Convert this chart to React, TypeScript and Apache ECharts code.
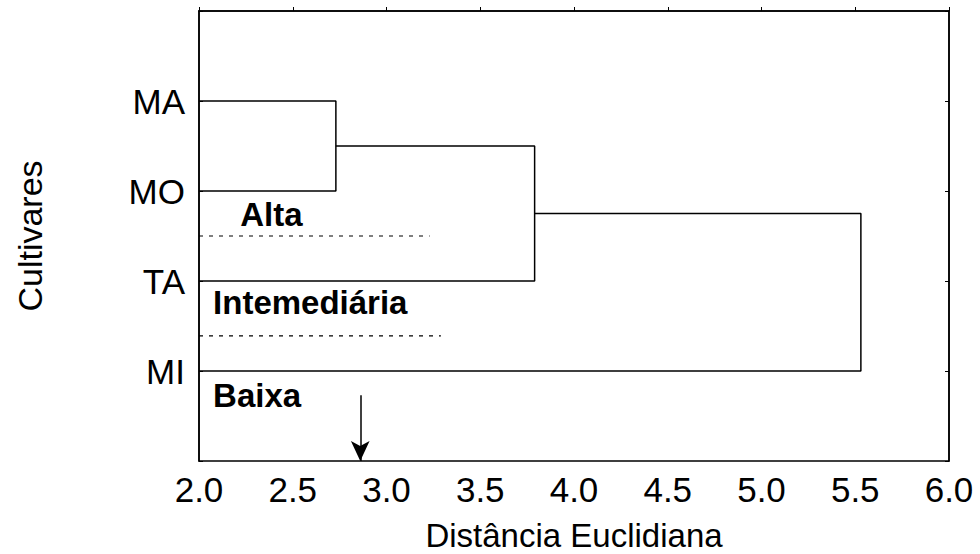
import React, { useEffect, useRef } from "react";
import * as echarts from "echarts";

const cultivars = ["", "MA", "MO", "TA", "MI", ""];
const xTicks = [2.0, 2.5, 3.0, 3.5, 4.0, 4.5, 5.0, 5.5, 6.0];

// dendrogram links: [x, y] in (distance, leaf position)
const link1: number[][] = [[2.0, 1], [2.73, 1], [2.73, 2], [2.0, 2]];
const link2: number[][] = [[2.73, 1.5], [3.79, 1.5], [3.79, 3], [2.0, 3]];
const link3: number[][] = [[3.79, 2.25], [5.53, 2.25], [5.53, 4], [2.0, 4]];

const cut1: number[][] = [[2.0, 2.5], [3.23, 2.5]];
const cut2: number[][] = [[2.0, 3.61], [3.29, 3.61]];

const groupLabels: (number | string)[][] = [
  [2.22, 2.26, "Alta"],
  [2.075, 3.24, "Intemediária"],
  [2.075, 4.27, "Baixa"],
];

const arrowX = 2.86;
const arrowFrom = 4.27;
const arrowTo = 5;

const FONT = "'Liberation Sans', Arial, sans-serif";

export default function App() {
  const ref = useRef<HTMLDivElement>(null);
  useEffect(() => {
    if (!ref.current) return;
    const chart = echarts.init(ref.current, null, { renderer: "svg" });
    const lineStyle = { color: "#000", width: 1.5 };
    const linkSeries = [link1, link2, link3].map((d) => ({
      type: "line",
      data: d,
      symbol: "none",
      lineStyle,
      silent: true,
    }));
    const cutSeries = [cut1, cut2].map((d) => ({
      type: "line",
      data: d,
      symbol: "none",
      lineStyle: { color: "#000", width: 1.2, type: [4, 6] },
      silent: true,
    }));
    chart.setOption({
      animation: false,
      backgroundColor: "#fff",
      textStyle: { fontFamily: FONT },
      grid: {
        left: 199,
        right: 31,
        top: 11,
        bottom: 93,
        show: true,
        borderColor: "#000",
        borderWidth: 1.5,
        containLabel: false,
        outerBoundsMode: "none",
      },
      xAxis: [
        {
          type: "value",
          min: 2,
          max: 6,
          interval: 0.5,
          position: "bottom",
          name: "Distância Euclidiana",
          nameLocation: "middle",
          nameGap: 58,
          nameTextStyle: { fontSize: 33, color: "#000", fontFamily: FONT },
          axisLine: { show: true, lineStyle: { color: "#000", width: 1.5 } },
          axisTick: { show: true, inside: true, length: 4, lineStyle: { color: "#000" } },
          axisLabel: {
            fontSize: 35,
            color: "#000",
            margin: 11,
            fontFamily: FONT,
            formatter: (v: number) => (xTicks.includes(v) ? v.toFixed(1) : ""),
          },
          splitLine: { show: false },
        },
      ],
      yAxis: [
        {
          type: "value",
          min: 0,
          max: 5,
          interval: 1,
          inverse: true,
          name: "Cultivares",
          nameLocation: "middle",
          nameGap: 152,
          nameRotate: 90,
          nameTextStyle: { fontSize: 34, color: "#000", fontFamily: FONT },
          axisLine: { show: true, lineStyle: { color: "#000", width: 1.5 } },
          axisTick: { show: true, inside: true, length: 4, lineStyle: { color: "#000" } },
          axisLabel: {
            fontSize: 35,
            color: "#000",
            margin: 14,
            fontFamily: FONT,
            formatter: (v: number) => cultivars[v] || "",
          },
          splitLine: { show: false },
        },
        {
          type: "value",
          min: 0,
          max: 5,
          interval: 1,
          inverse: true,
          position: "right",
          axisLine: { show: true, lineStyle: { color: "#000", width: 1.5 } },
          axisTick: { show: true, inside: true, length: 4, lineStyle: { color: "#000" } },
          axisLabel: { show: false },
          splitLine: { show: false },
        },
      ],
      series: [
        ...linkSeries,
        ...cutSeries,
        {
          type: "scatter",
          data: groupLabels,
          symbolSize: 0,
          silent: true,
          itemStyle: { color: "#000", opacity: 1 },
          label: {
            show: true,
            position: "right",
            distance: 0,
            fontSize: 33,
            fontWeight: "bold",
            color: "#000",
            opacity: 1,
            fontFamily: FONT,
            formatter: (p: any) => p.data[2],
          },
        },
        {
          type: "line",
          data: [],
          symbol: "none",
          silent: true,
          markLine: {
            silent: true,
            symbol: ["none", "arrow"],
            symbolSize: [14, 20],
            label: { show: false },
            lineStyle: { color: "#000", width: 1.5, type: "solid" },
            data: [[{ coord: [arrowX, arrowFrom] }, { coord: [arrowX, arrowTo] }]],
          },
        },
      ],
    });
    return () => chart.dispose();
  }, []);
  return (
    <div
      ref={ref}
      style={{ position: "fixed", left: 0, top: 0, width: 980, height: 554, background: "#fff" }}
    />
  );
}
